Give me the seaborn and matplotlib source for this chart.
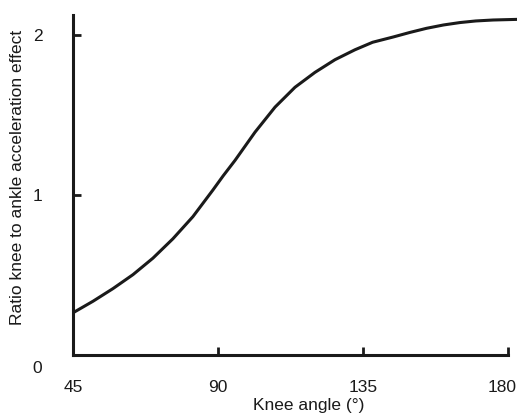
import matplotlib
matplotlib.use("Agg")
import matplotlib.pyplot as plt
import matplotlib.transforms as mtransforms
import seaborn as sns
import pandas as pd

# valores
knee_angle = [45, 51.2, 57.4, 63.6, 69.8, 76.0, 82.2, 88.4, 91.6, 95.3, 101.5,
              107.7, 113.9, 120.1, 126.3, 132.5, 138.0, 144.4, 149.5, 154.7,
              160.0, 165.1, 170.0, 175.4, 183.0]
ratio = [0.263, 0.335, 0.414, 0.501, 0.604, 0.725, 0.863, 1.029, 1.118, 1.215, 1.391,
         1.547, 1.671, 1.764, 1.843, 1.905, 1.952, 1.985, 2.013, 2.039,
         2.060, 2.075, 2.085, 2.091, 2.095]

df = pd.DataFrame({'angle': knee_angle, 'ratio': ratio})

sns.set_style("white")
plt.rcParams['font.family'] = ['Liberation Sans', 'DejaVu Sans']

fig = plt.figure(figsize=(5.18, 4.19), dpi=100)
ax = fig.add_axes([0.141, 0.153, 0.857, 0.818])

sns.lineplot(data=df, x='angle', y='ratio', color='#1a1a1a', linewidth=2.2, ax=ax)

ax.set_xlim(45, 182.8)
ax.set_ylim(0, 2.14)
ax.set_xticks([45, 90, 135, 180])
ax.set_yticks([0, 1, 2])
ax.spines['top'].set_visible(False)
ax.spines['right'].set_visible(False)
for s in ['left', 'bottom']:
    ax.spines[s].set_linewidth(2.2)
    ax.spines[s].set_color('#1a1a1a')
ax.spines['left'].set_bounds(0, 2.12)
ax.spines['bottom'].set_bounds(45, 180)

ax.tick_params(axis='both', direction='in', length=6, width=2, color='#1a1a1a',
               labelsize=12.5, labelcolor='#1a1a1a', bottom=True, left=True)
ax.tick_params(axis='y', pad=22)
ax.tick_params(axis='x', pad=18)

# o rótulo 0 fica um pouco abaixo do eixo, e o 180 um pouco à esquerda
lbl0 = ax.get_yticklabels()[0]
lbl0.set_transform(lbl0.get_transform() + mtransforms.ScaledTranslation(0, -0.12, fig.dpi_scale_trans))
lbl180 = ax.get_xticklabels()[-1]
lbl180.set_transform(lbl180.get_transform() + mtransforms.ScaledTranslation(-0.055, 0, fig.dpi_scale_trans))

ax.set_xlabel("Knee angle (°)", fontsize=12.5, color='#1a1a1a')
ax.set_ylabel("Ratio knee to ankle acceleration effect", fontsize=12.5, color='#1a1a1a')
ax.xaxis.set_label_coords(0.53, -0.125)
ax.yaxis.set_label_coords(-0.108, 0.519)
ax.xaxis.label.set_va('top')

fig.savefig("out.png", dpi=100)
